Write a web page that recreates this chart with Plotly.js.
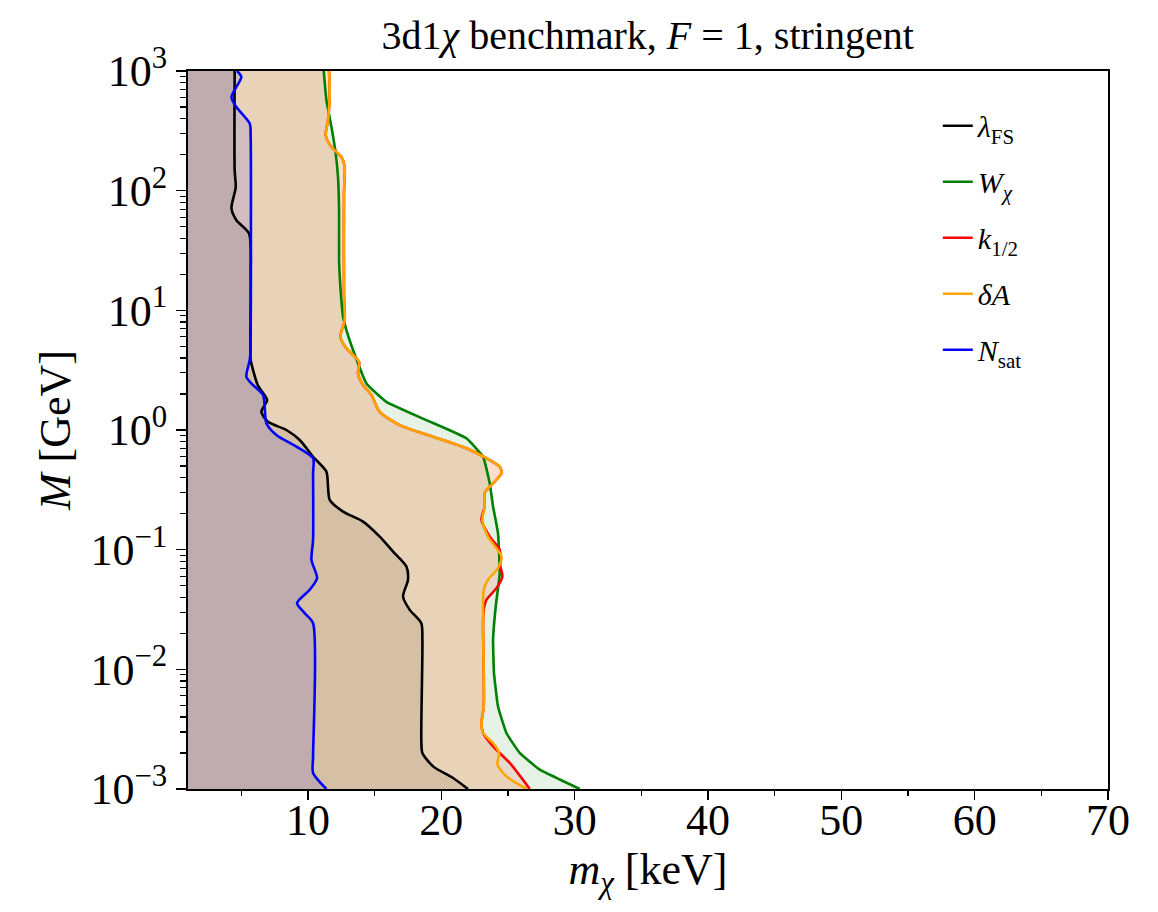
<!DOCTYPE html>
<html>
<head>
<meta charset="utf-8">
<script src="https://cdn.plot.ly/plotly-3.0.1.min.js"></script>
<style>html,body{margin:0;padding:0;background:#fff;}#chart{width:1158px;height:912px;}</style>
</head>
<body>
<div id="chart"></div>
<script>
// ---- data (m_chi in keV as a function of M in GeV) ----
const M_lambdaFS = [1000, 148, 107, 71, 56.6, 43.8, 20, 4.4, 3.85, 2.38, 1.78, 1.42, 1.17, 1.0, 0.825, 0.598, 0.449, 0.337, 0.261, 0.208, 0.1715, 0.1285, 0.0964, 0.0723, 0.056, 0.0406, 0.0314, 0.0243, 0.01766, 0.00258, 0.0020, 0.001546, 0.001236, 0.001];
const m_lambdaFS = [4.50, 4.50, 4.58, 4.26, 4.63, 5.58, 5.70, 5.68, 5.70, 6.23, 6.93, 6.50, 7.00, 8.38, 9.38, 10.38, 11.38, 11.50, 11.63, 12.63, 14.13, 15.38, 16.38, 17.38, 17.50, 17.13, 17.63, 18.50, 18.58, 18.50, 18.58, 19.38, 20.88, 22.0];

const M_Wchi = [1000, 569, 341, 204, 130, 68.7, 26.2, 15.7, 8.83, 6.84, 4.66, 2.45, 1.72, 1.21, 0.853, 0.598, 0.359, 0.229, 0.1374, 0.0637, 0.0335, 0.01766, 0.00931, 0.0049, 0.00294, 0.0020, 0.00145, 0.0012, 0.001];
const m_Wchi = [11.18, 11.38, 11.76, 12.08, 12.25, 12.33, 12.33, 12.43, 12.63, 12.88, 13.38, 14.38, 15.88, 18.88, 21.88, 23.13, 23.63, 23.88, 24.25, 24.38, 24.08, 23.88, 23.95, 24.25, 24.88, 25.88, 27.38, 28.88, 30.38];

const M_k12 = [1000, 647, 387, 290, 232, 191, 158, 94.6, 13.8, 8.29, 6.01, 4.81, 3.72, 2.97, 2.38, 1.96, 1.42, 1.10, 0.879, 0.703, 0.581, 0.494, 0.435, 0.359, 0.2966, 0.229, 0.1775, 0.1285, 0.0996, 0.0723, 0.0596, 0.0477, 0.0381, 0.0314, 0.0243, 0.0049, 0.00356, 0.00294, 0.00227, 0.00165, 0.001];
const m_k12 = [11.58, 11.63, 11.50, 11.33, 11.76, 12.51, 12.75, 12.70, 12.70, 12.75, 12.43, 12.88, 13.83, 13.75, 14.13, 14.76, 15.38, 16.88, 19.38, 21.88, 23.38, 24.38, 24.51, 23.88, 23.25, 23.25, 23.01, 23.63, 24.38, 24.43, 24.58, 24.13, 23.38, 23.18, 23.13, 23.18, 23.01, 23.13, 23.88, 25.13, 26.63];

const M_dA = [1000, 647, 387, 290, 232, 191, 158, 94.6, 13.8, 8.29, 6.01, 4.81, 3.72, 2.97, 2.38, 1.96, 1.42, 1.10, 0.879, 0.703, 0.581, 0.494, 0.435, 0.359, 0.2966, 0.229, 0.1775, 0.1285, 0.0875, 0.070, 0.056, 0.0462, 0.0243, 0.0049, 0.00356, 0.00294, 0.00242, 0.0020, 0.001596, 0.001274, 0.001];
const m_dA = [11.58, 11.63, 11.50, 11.33, 11.76, 12.51, 12.75, 12.70, 12.70, 12.75, 12.43, 12.88, 13.83, 13.75, 14.13, 14.76, 15.38, 16.88, 19.38, 21.88, 23.38, 24.38, 24.51, 23.88, 23.25, 23.25, 23.08, 23.50, 24.51, 24.25, 23.50, 23.18, 23.13, 23.18, 23.01, 23.13, 23.88, 24.33, 24.21, 24.88, 26.38];

const M_Nsat = [1000, 891, 607, 500, 364, 281, 50, 4.40, 3.85, 2.79, 2.45, 1.96, 1.57, 1.14, 0.908, 0.726, 0.581, 0.435, 0.121, 0.0822, 0.0578, 0.0462, 0.0357, 0.0295, 0.0243, 0.00187, 0.00136, 0.001];
const m_Nsat = [4.68, 5.00, 4.26, 4.63, 5.63, 5.70, 5.72, 5.68, 5.63, 5.38, 5.75, 6.63, 6.75, 6.88, 7.63, 9.13, 10.38, 10.38, 10.38, 10.26, 10.68, 10.13, 9.18, 9.75, 10.38, 10.38, 10.38, 11.38];

const seriesNames = ['<i>λ</i><sub>FS</sub>', '<i>W</i><sub><i>χ</i></sub>', '<i>k</i><sub>1/2</sub>', '<i>δA</i>', '<i>N</i><sub>sat</sub>'];
const xTickVals = [10, 20, 30, 40, 50, 60, 70];
const xTickText = ['10', '20', '30', '40', '50', '60', '70'];
const yTickVals = [0.001, 0.01, 0.1, 1, 10, 100, 1000];
const yTickText = ['10<sup>−3</sup>', '10<sup>−2</sup>', '10<sup>−1</sup>', '10<sup>0</sup>', '10<sup>1</sup>', '10<sup>2</sup>', '10<sup>3</sup>'];

// ---- styling ----
const series = [
  {x: m_lambdaFS, y: M_lambdaFS, color: '#000000', rgb: '0,0,0', smooth: 0.7},
  {x: m_Wchi, y: M_Wchi, color: '#008000', rgb: '0,128,0', smooth: 0.35},
  {x: m_k12, y: M_k12, color: '#ff0000', rgb: '255,0,0', smooth: 0.7},
  {x: m_dA, y: M_dA, color: '#ffa500', rgb: '255,165,0', smooth: 0.7},
  {x: m_Nsat, y: M_Nsat, color: '#0000ff', rgb: '0,0,255', smooth: 0.7}
];

const traces = [];
series.forEach(s => {
  traces.push({
    x: s.x, y: s.y, type: 'scatter', mode: 'lines',
    line: {width: 0, shape: 'spline', smoothing: s.smooth, color: s.color},
    fill: 'tozerox', fillcolor: 'rgba(' + s.rgb + ',0.1)',
    showlegend: false, hoverinfo: 'skip'
  });
});
series.forEach((s, i) => {
  traces.push({
    x: s.x, y: s.y, type: 'scatter', mode: 'lines', name: seriesNames[i],
    legendgroup: 'g' + i,
    line: {width: 2.6, shape: 'spline', smoothing: s.smooth, color: s.color}
  });
});

const serif = 'Liberation Serif, DejaVu Serif, serif';
const layout = {
  width: 1158, height: 912,
  margin: {l: 188, r: 50, t: 71, b: 123},
  paper_bgcolor: '#ffffff', plot_bgcolor: '#ffffff',
  font: {family: serif, color: '#000000'},
  title: {text: '3d1<i>χ</i> benchmark, <i>F</i> = 1, stringent', font: {family: serif, size: 40, color: '#000'}, x: 0.5593, xanchor: 'center', y: 0.962, yanchor: 'middle'},
  xaxis: {
    range: [1, 70], showgrid: false, zeroline: false,
    tickmode: 'array', tickvals: xTickVals, ticktext: xTickText,
    ticks: 'outside', ticklen: 9, tickwidth: 1.5, tickcolor: '#000',
    tickfont: {family: serif, size: 44}, ticklabelstandoff: -18,
    linecolor: '#000', linewidth: 2, mirror: true,
    minor: {ticks: 'outside', ticklen: 5, tickwidth: 1.2, tickcolor: '#000', tick0: 0, dtick: 5, showgrid: false},
    title: {text: '<i>m</i><sub><i>χ</i></sub> [keV]', font: {family: serif, size: 44}, standoff: 0}
  },
  yaxis: {
    type: 'log', range: [-3, 3], showgrid: false, zeroline: false,
    tickmode: 'array', tickvals: yTickVals, ticktext: yTickText,
    ticks: 'outside', ticklen: 10, tickwidth: 1.5, tickcolor: '#000',
    tickfont: {family: serif, size: 44},
    linecolor: '#000', linewidth: 2, mirror: true,
    minor: {ticks: 'outside', ticklen: 6, tickwidth: 1.2, tickcolor: '#000', dtick: 'D1', showgrid: false},
    title: {text: '<i>M</i> [GeV]', font: {family: serif, size: 44}, standoff: 6}
  },
  legend: {
    x: 0.815, y: 0.96, xanchor: 'left', yanchor: 'top',
    bgcolor: 'rgba(0,0,0,0)', borderwidth: 0,
    font: {family: serif, size: 30},
    traceorder: 'grouped', tracegroupgap: 14
  },
  showlegend: true
};

Plotly.newPlot('chart', traces, layout, {displayModeBar: false, staticPlot: true});
</script>
</body>
</html>
